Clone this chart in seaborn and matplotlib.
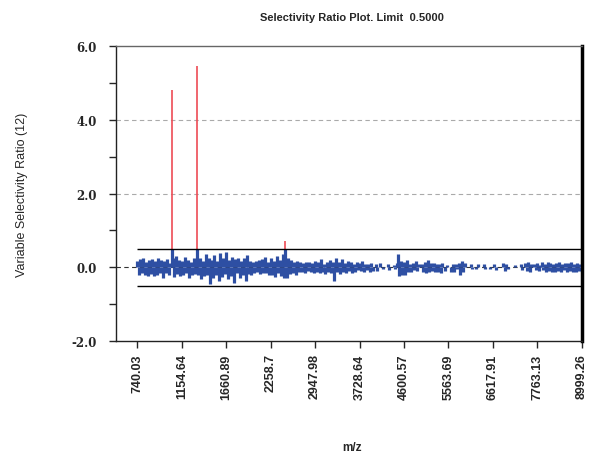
import numpy as np
import matplotlib
matplotlib.use("Agg")
import matplotlib.pyplot as plt
import seaborn as sns

# ---- data -------------------------------------------------------------
tick_labels = ["740.03", "1154.64", "1660.89", "2258.7", "2947.98", "3728.64",
               "4600.57", "5563.69", "6617.91", "7763.13", "8999.26"]
limit = 0.5
sr_values = [
    0.18, -0.20, 0.22, -0.16, 0.24, -0.22, 0.15, -0.25, 0.20, -0.18,
    0.22, -0.24, 0.16, -0.20, 0.26, -0.15, 0.20, -0.28, 0.18, -0.16,
    0.22, -0.20, 0.12, 4.81, 0.24, -0.26, 0.30, -0.18, 0.20, -0.24,
    0.16, -0.22, 0.28, -0.16, 0.20, -0.30, 0.14, -0.20, 0.24, -0.18,
    5.45, -0.20, 0.24, -0.32, 0.18, -0.24, 0.36, -0.20, 0.26, -0.46,
    0.20, -0.28, 0.32, -0.22, 0.16, -0.38, 0.38, -0.26, 0.24, -0.18,
    0.42, -0.32, 0.20, -0.24, 0.28, -0.42, 0.22, -0.16, 0.26, -0.30,
    0.18, -0.20, 0.24, -0.36, 0.32, -0.18, 0.16, -0.22, 0.14, -0.16,
    0.16, -0.14, 0.20, -0.18, 0.22, -0.15, 0.28, -0.16, 0.15, -0.22,
    0.24, -0.20, 0.18, -0.26, 0.30, -0.16, 0.20, -0.24, 0.36, -0.28,
    0.70, -0.30, 0.24, -0.18, 0.20, -0.15, 0.14, -0.22, 0.16, -0.12,
    0.15, -0.14, 0.12, -0.16, 0.14, -0.10, 0.15, -0.14, 0.12, -0.15,
    0.18, -0.12, 0.14, -0.15, 0.22, -0.14, 0.10, -0.18, 0.15, -0.14,
    0.20, -0.15, 0.14, -0.36, 0.24, -0.12, 0.15, -0.18, 0.22, -0.14,
    0.12, -0.15, 0.18, -0.10, 0.14, -0.16, 0.10, -0.14, 0.15, -0.08,
    0.12, -0.10, 0.16, -0.12, 0.08, -0.08, 0.10, -0.14, 0.12, -0.10,
    0.00, 0.08, -0.10, 0.00, 0.12, 0.00, -0.06, 0.00, 0.00, 0.10,
    -0.08, 0.00, 0.00, 0.06, -0.05, 0.12, 0.37, -0.24, 0.18, -0.20,
    0.15, -0.22, 0.20, -0.12, 0.10, -0.14, 0.12, -0.08, 0.16, -0.10,
    0.08, 0.00, 0.10, -0.12, 0.14, -0.16, 0.20, -0.14, 0.12, -0.10,
    0.12, -0.14, 0.10, -0.12, 0.08, -0.16, 0.12, 0.00, -0.10, 0.06,
    0.00, 0.00, -0.12, 0.10, -0.14, 0.08, -0.06, 0.12, -0.22, 0.16,
    -0.14, 0.12, 0.00, 0.00, 0.00, 0.08, -0.05, 0.00, 0.00, -0.06,
    0.10, 0.00, 0.00, 0.00, 0.08, -0.06, 0.00, 0.00, -0.05, 0.00,
    0.00, 0.09, -0.08, 0.00, 0.00, 0.00, 0.00, 0.12, -0.10, 0.08,
    -0.06, 0.00, 0.00, 0.00, 0.00, 0.06, 0.00, 0.00, 0.00, 0.10,
    -0.08, 0.00, 0.12, -0.10, 0.14, -0.12, 0.08, 0.00, 0.10, -0.08,
    0.12, -0.10, 0.06, 0.14, -0.08, 0.10, -0.12, 0.14, -0.10, 0.12,
    -0.12, 0.10, -0.14, 0.12, -0.10, 0.14, -0.12, 0.10, -0.08, 0.12,
    -0.14, 0.12, -0.10, 0.14, -0.12, 0.10, -0.14, 0.12, -0.10, 0.08, -0.12,
]

# ---- style ------------------------------------------------------------
sns.set_style("ticks")
plt.rcParams["font.family"] = ["Liberation Sans", "DejaVu Sans"]

blue = "#2e4fa3"
red = "#ee4b55"

fig = plt.figure(figsize=(5.89, 4.56), dpi=100)
ax = fig.add_axes([116 / 589, 1 - 342 / 456, (582 - 116) / 589, (342 - 47) / 456])

vals = np.array(sr_values)
idx = np.arange(len(vals))
n = len(vals) - 1

# dashed grid
for gy in (2.0, 4.0):
    ax.axhline(gy, color="#aaaaaa", lw=0.8, ls=(0, (4, 3)), zorder=0)
ax.axhline(0.0, color="#333333", lw=0.8, ls=(0, (4, 3)), zorder=1)

# bars
low = np.minimum(vals, limit)
ax.vlines(idx, 0, low, color=blue, lw=2.3, zorder=2)
hi = vals > limit
ax.vlines(idx[hi], limit, vals[hi], color=red, lw=1.2, zorder=3)

# limit lines
ax.hlines([limit, -limit], 0, n, color="black", lw=1.0, zorder=4)

ax.set_xlim(-14.5, n + 0.3)
ax.set_ylim(-2.0, 6.0)

step = n // (len(tick_labels) - 1)
ax.set_xticks(np.arange(0, n + 1, step))
ax.set_xticklabels(tick_labels, rotation=90, fontsize=9,
                   fontweight="bold", family=["Liberation Sans Narrow", "Liberation Sans"])
ax.set_yticks([-2, 0, 2, 4, 6])
ax.set_yticklabels(["-2.0", "0.0", "2.0", "4.0", "6.0"], fontsize=8.5,
                   fontweight="bold", family=["DejaVu Serif"])
ax.set_yticks([-1, 1, 3, 5], minor=True)
ax.tick_params(axis="y", which="both", length=5, width=1, pad=9, direction="out")
ax.tick_params(axis="x", length=5, width=1, pad=4, direction="out")

for s in ("left", "bottom"):
    ax.spines[s].set_color("#222222")
    ax.spines[s].set_linewidth(1.0)
ax.spines["top"].set_color("#666666")
ax.spines["top"].set_linewidth(1.0)
ax.spines["right"].set_color("black")
ax.spines["right"].set_linewidth(2.5)

fig.text(352 / 589, 1 - 18 / 456, "Selectivity Ratio Plot. Limit  0.5000",
         ha="center", va="center", fontsize=8, fontweight="bold")
fig.text(22 / 589, 1 - 195 / 456, "Variable Selectivity Ratio (12)",
         ha="center", va="center", rotation=90, fontsize=9,
         family=["Liberation Sans Narrow", "Liberation Sans"])
fig.text(352 / 589, 1 - 448 / 456, "m/z", ha="center", va="center",
         fontsize=8.5, fontweight="bold")

fig.savefig("out.png", dpi=100)
